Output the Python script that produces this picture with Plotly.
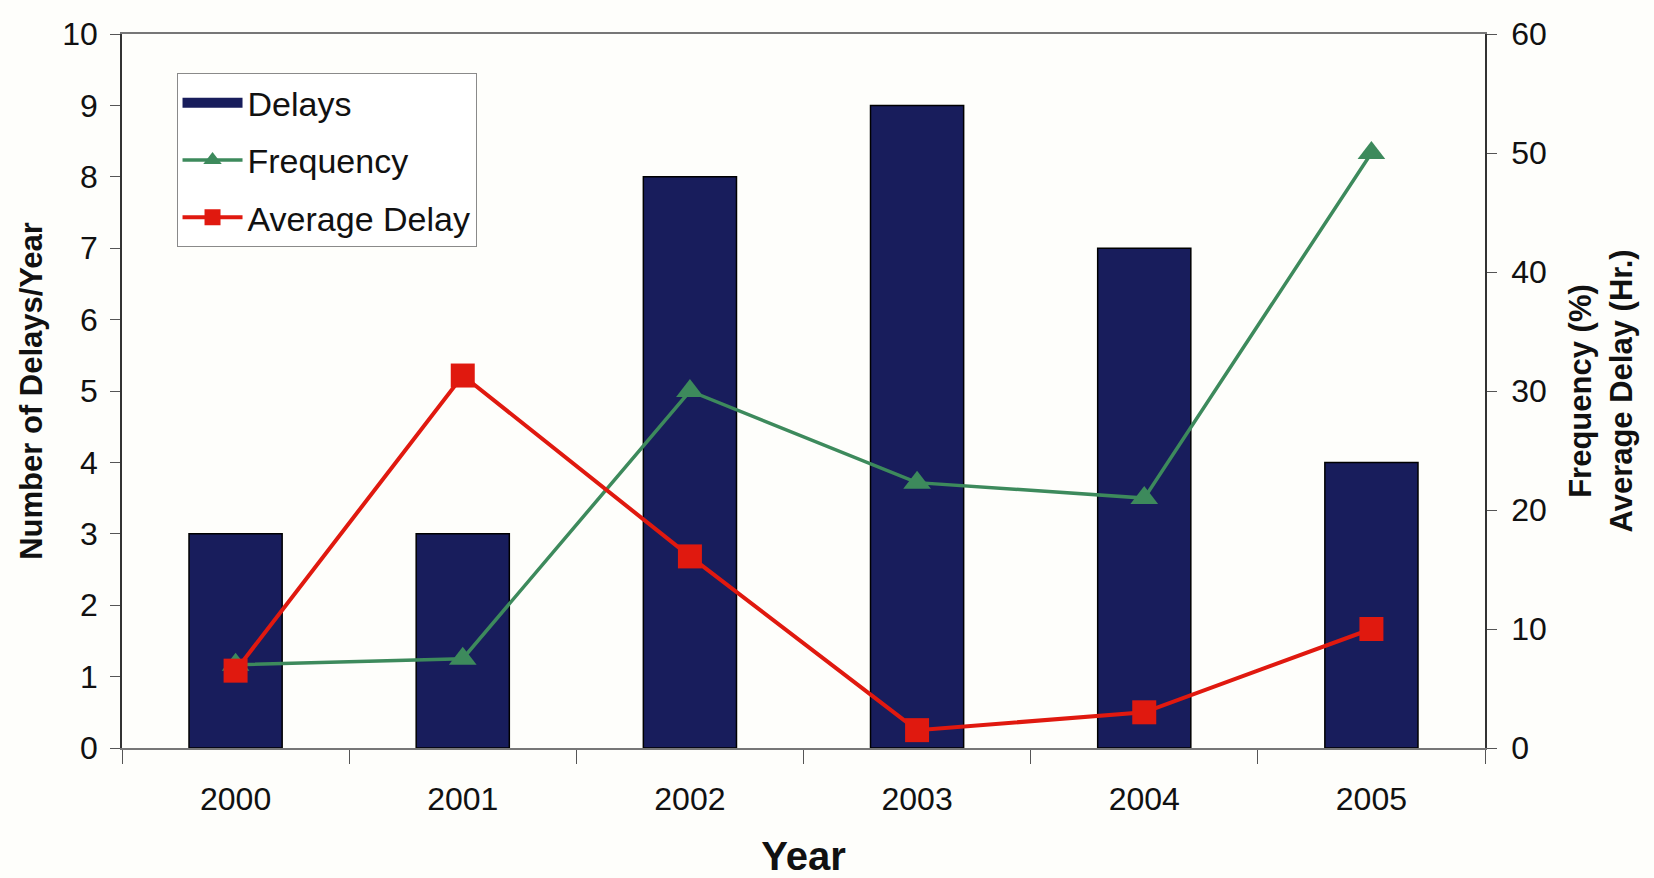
import plotly.graph_objects as go

# Yearly delay statistics
years = ["2000", "2001", "2002", "2003", "2004", "2005"]
delays = [3, 3, 8, 9, 7, 4]                       # number of delays per year
frequency = [7.0, 7.5, 30.0, 22.3, 21.0, 50.0]    # frequency (%)
avg_delay = [6.5, 31.3, 16.1, 1.5, 3.0, 10.0]     # average delay (hours)

left_ticks = list(range(0, 11))
right_ticks = list(range(0, 61, 10))

FONT = "Liberation Sans, Arial, Helvetica, sans-serif"

NAVY = "#181d5c"
GREEN = "#3d8a5c"
RED = "#e0190f"

fig = go.Figure()

fig.add_trace(go.Bar(
    x=years, y=delays, name="Delays",
    marker=dict(color=NAVY, line=dict(color="#000000", width=1.5)),
    width=0.41, showlegend=False,
))

# wide navy swatch for the bar series in the legend
fig.add_trace(go.Scatter(
    x=[None], y=[None], name="Delays", mode="lines",
    line=dict(color=NAVY, width=16), legendgroup="a",
))

fig.add_trace(go.Scatter(
    x=years, y=frequency, name="Frequency", yaxis="y2",
    mode="lines+markers",
    line=dict(color=GREEN, width=3.5),
    marker=dict(symbol="triangle-up", size=24, color=GREEN),
    legendgroup="b",
))

fig.add_trace(go.Scatter(
    x=years, y=avg_delay, name="Average Delay", yaxis="y2",
    mode="lines+markers",
    line=dict(color=RED, width=4),
    marker=dict(symbol="square", size=24, color=RED),
    legendgroup="c",
))

fig.update_layout(
    width=1654, height=878,
    margin=dict(l=122, r=169, t=34, b=130),
    paper_bgcolor="#fefefb",
    plot_bgcolor="#fefefb",
    font=dict(family=FONT, size=32, color="#111111"),
    showlegend=True,
    legend=dict(
        x=0.04, y=0.945, xanchor="left", yanchor="top",
        bgcolor="#ffffff", bordercolor="#8a8a8a", borderwidth=1,
        font=dict(family=FONT, size=34, color="#111111"),
        traceorder="grouped", tracegroupgap=10,
        itemwidth=60,
    ),
    xaxis=dict(
        type="category",
        range=[-0.5, 5.5],
        automargin=False,
        showline=True, linecolor="#777777", linewidth=1.5, mirror=True,
        ticks="outside", tickson="boundaries", ticklen=14,
        tickcolor="#555555", tickwidth=1.2,
        showgrid=False, zeroline=False,
        tickfont=dict(family=FONT, size=32),
        ticklabelstandoff=22,
        title=dict(text="<b>Year</b>", font=dict(family=FONT, size=40), standoff=26),
    ),
    yaxis=dict(
        range=[0, 10], tickvals=left_ticks,
        showline=True, linecolor="#333333", linewidth=1.5,
        ticks="outside", ticklen=10, tickcolor="#555555", tickwidth=1.2,
        showgrid=False, zeroline=False,
        tickfont=dict(family=FONT, size=32),
        ticklabelstandoff=6,
        title=dict(text="<b>Number of Delays/Year</b>",
                   font=dict(family=FONT, size=31), standoff=10),
    ),
    yaxis2=dict(
        range=[0, 60], tickvals=right_ticks,
        overlaying="y", side="right",
        showline=True, linecolor="#333333", linewidth=1.5,
        ticks="outside", ticklen=10, tickcolor="#555555", tickwidth=1.2,
        showgrid=False, zeroline=False,
        tickfont=dict(family=FONT, size=32),
        ticklabelstandoff=8,
        title=dict(text="<b>Frequency (%)<br>Average Delay (Hr.)</b>",
                   font=dict(family=FONT, size=31), standoff=24),
    ),
)

fig.write_html("out.html")
